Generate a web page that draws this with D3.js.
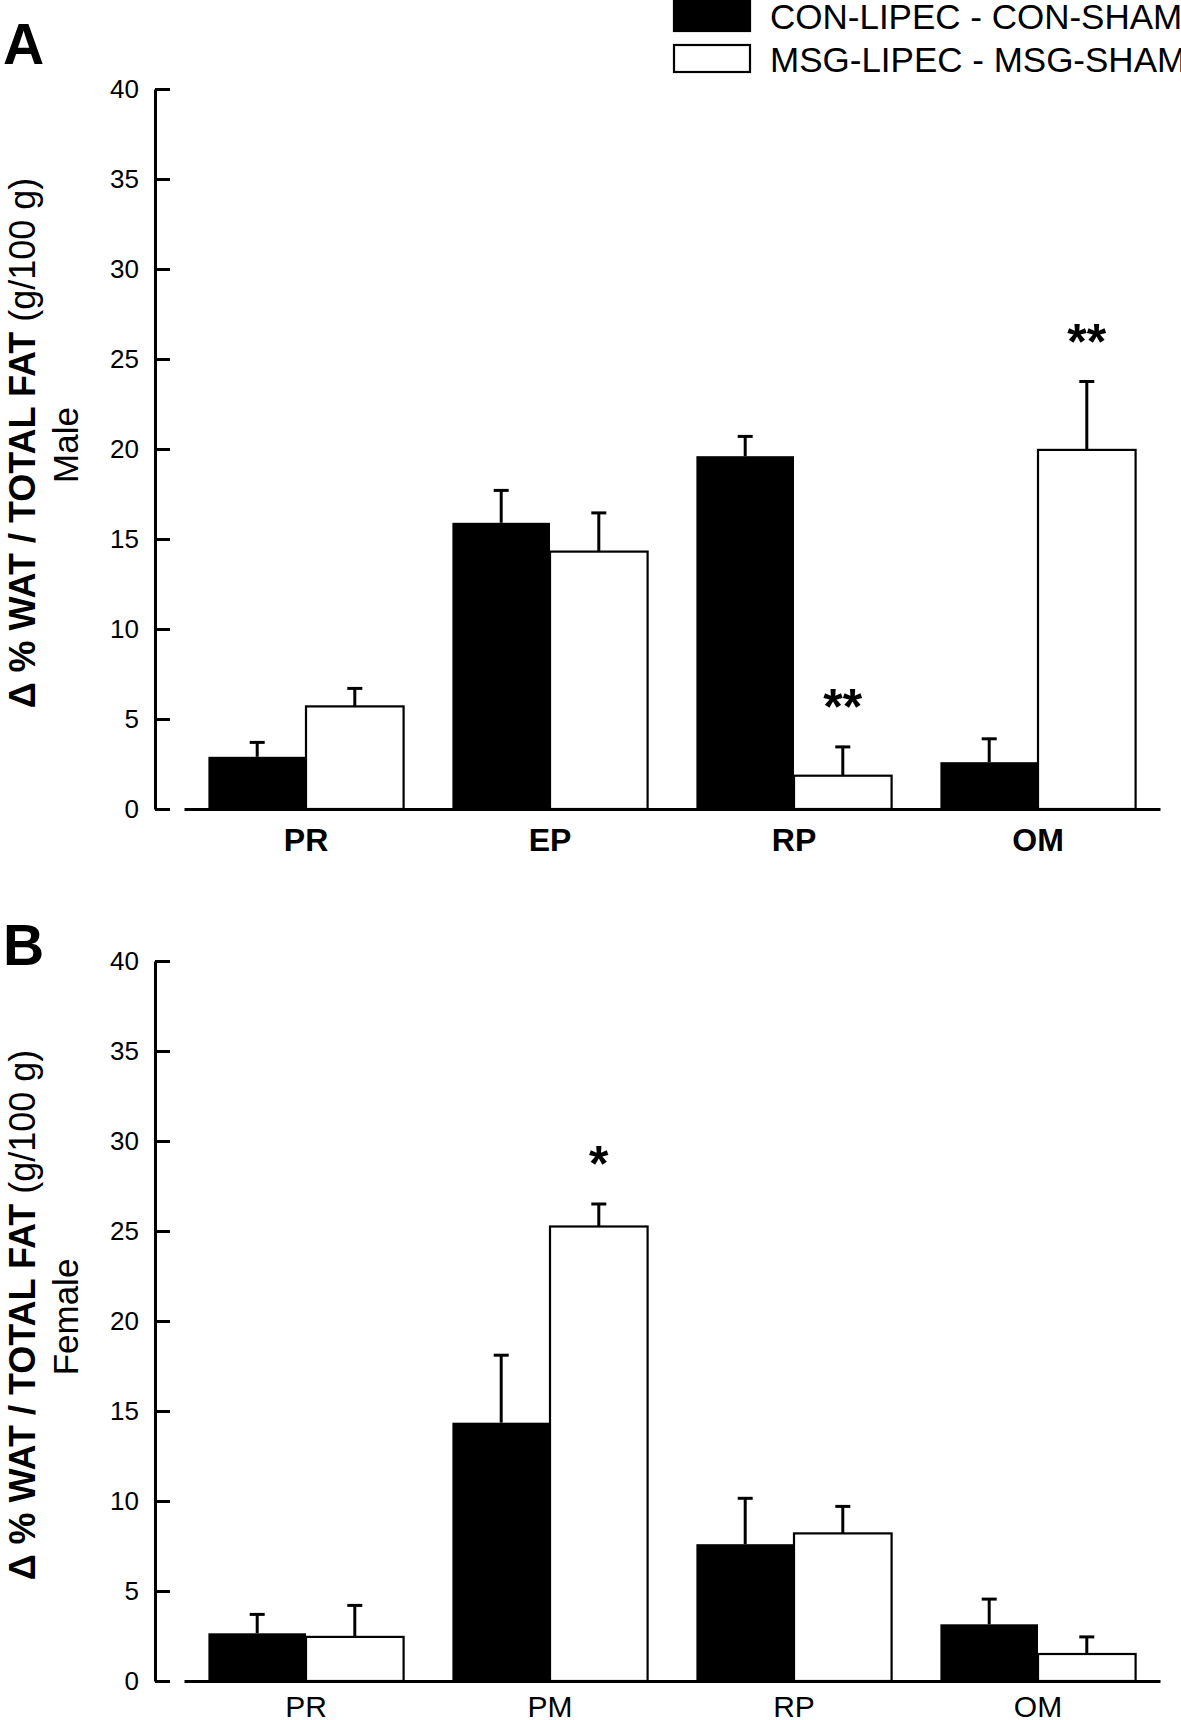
<!DOCTYPE html>
<html>
<head>
<meta charset="utf-8">
<script src="https://cdn.jsdelivr.net/npm/d3@7"></script>
<style>
  body { margin: 0; background: #fff; }
  svg { display: block; font-family: "Liberation Sans", Arial, Helvetica, sans-serif; }
</style>
</head>
<body>
<script>
// ---------------- data ----------------
const seriesKeys = ["con", "msg"];
const seriesNames = ["CON-LIPEC - CON-SHAM", "MSG-LIPEC - MSG-SHAM"];
const yTicks = [0, 5, 10, 15, 20, 25, 30, 35, 40];

// Panel A (Male)
const categoriesA = ["PR", "EP", "RP", "OM"];
const conA = [2.9, 15.9, 19.6, 2.6];
const conAErr = [0.8, 1.8, 1.1, 1.3];
const msgA = [5.7, 14.3, 1.85, 19.95];
const msgAErr = [1.0, 2.15, 1.6, 3.8];
const sigA = ["", "", "**", "**"];

// Panel B (Female)
const categoriesB = ["PR", "PM", "RP", "OM"];
const conB = [2.65, 14.35, 7.6, 3.15];
const conBErr = [1.05, 3.75, 2.55, 1.4];
const msgB = [2.45, 25.25, 8.2, 1.5];
const msgBErr = [1.75, 1.25, 1.5, 0.95];
const sigB = ["", "*", "", ""];

// ---------------- drawing ----------------
const W = 1181, H = 1720;
const svg = d3.select("body").append("svg").attr("width", W).attr("height", H);

function panel(cfg) {
  const g = svg.append("g");
  const y = d3.scaleLinear().domain([0, 40]).range([cfg.y0, cfg.y0 - 720]);
  const x = d3.scaleBand().domain(cfg.cats).range([184, 1160]).paddingInner(0.2).paddingOuter(0.1);
  const xs = d3.scaleBand().domain(seriesKeys).range([0, x.bandwidth()]);

  const rows = [];
  cfg.cats.forEach((c, i) => {
    rows.push({cat: c, key: "con", v: cfg.con[i], e: cfg.conErr[i], sig: ""});
    rows.push({cat: c, key: "msg", v: cfg.msg[i], e: cfg.msgErr[i], sig: cfg.sig[i]});
  });

  // bars
  g.selectAll("rect.bar").data(rows).join("rect")
    .attr("class", "bar")
    .attr("x", d => x(d.cat) + xs(d.key))
    .attr("width", xs.bandwidth())
    .attr("y", d => y(d.v))
    .attr("height", d => y(0) - y(d.v))
    .attr("fill", d => d.key === "con" ? "#000" : "#fff")
    .attr("stroke", "#000")
    .attr("stroke-width", d => d.key === "con" ? 0 : 2.2);

  // error bars
  const cx = d => x(d.cat) + xs(d.key) + xs.bandwidth() / 2;
  g.selectAll("line.err").data(rows).join("line")
    .attr("class", "err")
    .attr("x1", cx).attr("x2", cx)
    .attr("y1", d => y(d.v)).attr("y2", d => y(d.v + d.e))
    .attr("stroke", "#000").attr("stroke-width", 3);
  g.selectAll("line.cap").data(rows).join("line")
    .attr("class", "cap")
    .attr("x1", d => cx(d) - 7.5).attr("x2", d => cx(d) + 7.5)
    .attr("y1", d => y(d.v + d.e)).attr("y2", d => y(d.v + d.e))
    .attr("stroke", "#000").attr("stroke-width", 3);

  // significance marks
  g.selectAll("text.sig").data(rows.filter(d => d.sig)).join("text")
    .attr("class", "sig")
    .attr("x", cx)
    .attr("y", d => y(d.v + d.e) - 23)
    .attr("text-anchor", "middle")
    .attr("font-size", 50).attr("font-weight", "bold")
    .text(d => d.sig);

  // x axis
  const xa = g.append("g").attr("transform", `translate(0,${cfg.y0})`)
    .call(d3.axisBottom(x).tickSize(0).tickSizeOuter(0).tickPadding(cfg.xPad));
  xa.select(".domain").attr("stroke", "#000").attr("stroke-width", 3);
  xa.selectAll("text").attr("font-size", cfg.xFont).attr("font-weight", cfg.xBold ? "bold" : "normal")
    .attr("fill", "#000").attr("font-family", null);

  // y axis
  const ya = g.append("g").attr("transform", "translate(155,0)")
    .call(d3.axisLeft(y).tickValues(yTicks).tickSizeInner(-15).tickSizeOuter(0).tickPadding(16));
  ya.select(".domain").attr("stroke", "#000").attr("stroke-width", 3);
  ya.selectAll(".tick line").attr("stroke", "#000").attr("stroke-width", 3);
  ya.selectAll("text").attr("font-size", 26).attr("fill", "#000").attr("font-family", null);

  // y title
  const mid = (y(0) + y(40)) / 2;
  const t = g.append("text").attr("transform", `translate(35,${mid - 6}) rotate(-90)`)
    .attr("text-anchor", "middle").attr("font-size", 36);
  t.append("tspan").attr("font-weight", "bold").text("Δ % WAT / TOTAL FAT ");
  t.append("tspan").text("(g/100 g)");
  g.append("text").attr("transform", `translate(78,${mid - 4}) rotate(-90)`)
    .attr("text-anchor", "middle").attr("font-size", 35).text(cfg.sex);

  // panel letter
  g.append("text").attr("x", 3).attr("y", cfg.letterY)
    .attr("font-size", 57).attr("font-weight", "bold").text(cfg.letter);
}

panel({y0: 809, cats: categoriesA, con: conA, conErr: conAErr, msg: msgA, msgErr: msgAErr,
       sig: sigA, xPad: 19, xFont: 32, xBold: true, sex: "Male", letter: "A", letterY: 64});
panel({y0: 1681, cats: categoriesB, con: conB, conErr: conBErr, msg: msgB, msgErr: msgBErr,
       sig: sigB, xPad: 15, xFont: 30, xBold: false, sex: "Female", letter: "B", letterY: 965});

// legend
const legend = svg.append("g");
const legY = [0, 45];
const legBase = [29, 72];
seriesKeys.forEach((k, i) => {
  legend.append("rect")
    .attr("x", 674).attr("y", legY[i] + (i === 0 ? -2 : 0))
    .attr("width", 76).attr("height", i === 0 ? 33 : 27)
    .attr("fill", k === "con" ? "#000" : "#fff")
    .attr("stroke", "#000").attr("stroke-width", 2.2);
  legend.append("text").attr("x", 770).attr("y", legBase[i])
    .attr("font-size", 35).text(seriesNames[i]);
});
</script>
</body>
</html>
